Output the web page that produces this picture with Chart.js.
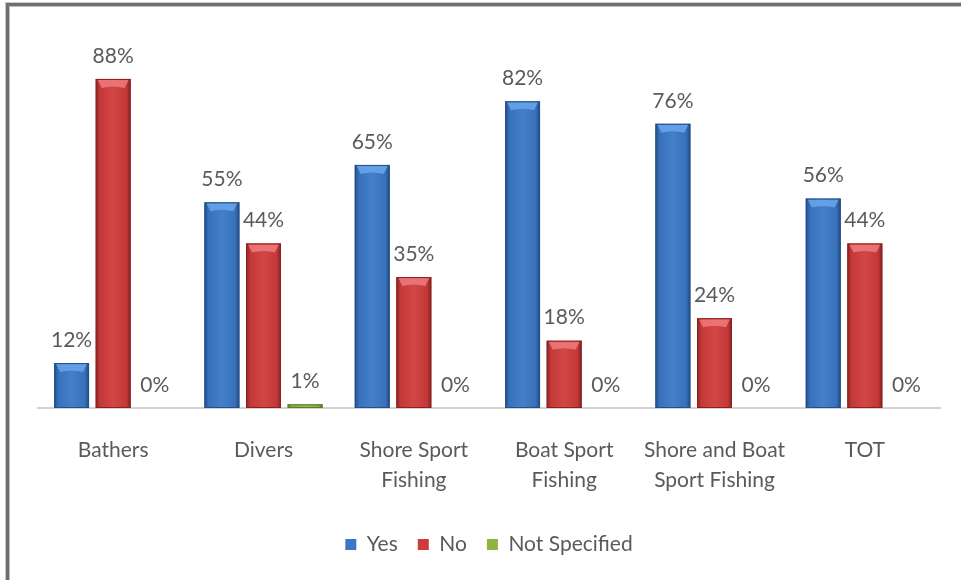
<!DOCTYPE html>
<html>
<head>
<meta charset="utf-8">
<script src="https://cdn.jsdelivr.net/npm/chart.js@4"></script>
<style>
  html, body { margin: 0; padding: 0; background: #fff; }
  #wrap { position: relative; width: 961px; height: 580px; overflow: hidden; }
  #frame {
    position: absolute; left: 6px; top: 3px; width: 1000px; height: 1000px;
    border-left: 3px solid #6f6f6f; border-top: 3px solid #6f6f6f;
    box-shadow: inset 1px 1px 0 #bdbdbd, -1px -1px 0 #c8c8c8;
  }
  canvas { position: absolute; left: 0; top: 0; }
</style>
</head>
<body>
<div id="wrap">
  <div id="frame"></div>
  <canvas id="surveyChart" width="961" height="580"></canvas>
</div>
<script>
let categories = [
  "Bathers",
  "Divers",
  ["Shore Sport", "Fishing"],
  ["Boat Sport", "Fishing"],
  ["Shore and Boat", "Sport Fishing"],
  "TOT"
];
let yesValues = [12, 55, 65, 82, 76, 56];
let noValues = [88, 44, 35, 18, 24, 44];
let notSpecifiedValues = [0, 1, 0, 0, 0, 0];

let seriesNames = ["Yes", "No", "Not Specified"];
let barColors = ["#3a77c6", "#cf3b3b", "#8db53f"];
let edgeColors = ["#21508f", "#8e1f1f", "#5d7f22"];
let capColors = ["#6aa6ea", "#ee7b7b", "#b7dc72"];

const textColor = "#5a5a5a";
const fontFamily = "Lato, 'Open Sans', sans-serif";
const fontSize = 21;

// bevelled look on every bar: dark sides, light cap
const bevelBars = {
  id: "bevelBars",
  afterDatasetsDraw(chart) {
    const ctx = chart.ctx;
    chart.data.datasets.forEach((ds, di) => {
      chart.getDatasetMeta(di).data.forEach((bar) => {
        const { x, y, base, width } = bar.getProps(["x", "y", "base", "width"], true);
        const h = base - y;
        if (h < 1) return;
        const left = x - width / 2;
        ctx.save();
        let g = ctx.createLinearGradient(left, 0, left + width, 0);
        g.addColorStop(0, "rgba(0,0,0,0.35)");
        g.addColorStop(0.12, "rgba(0,0,0,0.05)");
        g.addColorStop(0.5, "rgba(255,255,255,0.06)");
        g.addColorStop(0.88, "rgba(0,0,0,0.05)");
        g.addColorStop(1, "rgba(0,0,0,0.4)");
        ctx.fillStyle = g;
        ctx.fillRect(left, y, width, h);
        if (h > 6) {
          // light cap on top
          const capH = Math.min(9, h);
          ctx.beginPath();
          ctx.moveTo(left + 2, y + 1);
          ctx.lineTo(left + width - 2, y + 1);
          ctx.lineTo(left + width - 6, y + capH);
          ctx.quadraticCurveTo(x, y + capH - 3, left + 6, y + capH);
          ctx.closePath();
          ctx.fillStyle = capColors[di];
          ctx.globalAlpha = 0.85;
          ctx.fill();
          ctx.globalAlpha = 1;
        }
        ctx.strokeStyle = edgeColors[di];
        ctx.lineWidth = 1;
        ctx.strokeRect(left + 0.5, y + 0.5, width - 1, h - 1);
        ctx.restore();
      });
    });
  }
};

// percentage above each bar
const valueLabels = {
  id: "valueLabels",
  afterDatasetsDraw(chart) {
    const ctx = chart.ctx;
    ctx.save();
    ctx.font = fontSize + "px " + fontFamily;
    ctx.fillStyle = textColor;
    ctx.textAlign = "center";
    ctx.textBaseline = "middle";
    chart.data.datasets.forEach((ds, di) => {
      chart.getDatasetMeta(di).data.forEach((bar, i) => {
        ctx.fillText(ds.data[i] + "%", bar.x, bar.y - 23);
      });
    });
    ctx.restore();
  }
};

const ctx = document.getElementById("surveyChart").getContext("2d");
let myChart = new Chart(ctx, {
  type: "bar",
  data: {
    labels: categories,
    datasets: [yesValues, noValues, notSpecifiedValues].map((vals, i) => ({
      label: seriesNames[i],
      data: vals,
      backgroundColor: barColors[i],
      borderWidth: 0,
      categoryPercentage: 0.83,
      barPercentage: 0.84
    }))
  },
  options: {
    responsive: false,
    animation: false,
    layout: { padding: { left: 38, right: 21, top: 34, bottom: 15 } },
    scales: {
      y: { display: false, min: 0, max: 100 },
      x: {
        grid: { display: false },
        border: { color: "#d4d4d4", width: 2 },
        ticks: {
          color: textColor,
          padding: 19,
          maxRotation: 0,
          font: { family: fontFamily, size: fontSize, lineHeight: "30px" }
        }
      }
    },
    plugins: {
      tooltip: { enabled: false },
      legend: {
        position: "bottom",
        labels: {
          color: textColor,
          boxWidth: 11,
          boxHeight: 11,
          padding: 20,
          font: { family: fontFamily, size: fontSize }
        }
      }
    }
  },
  plugins: [bevelBars, valueLabels]
});
</script>
</body>
</html>
